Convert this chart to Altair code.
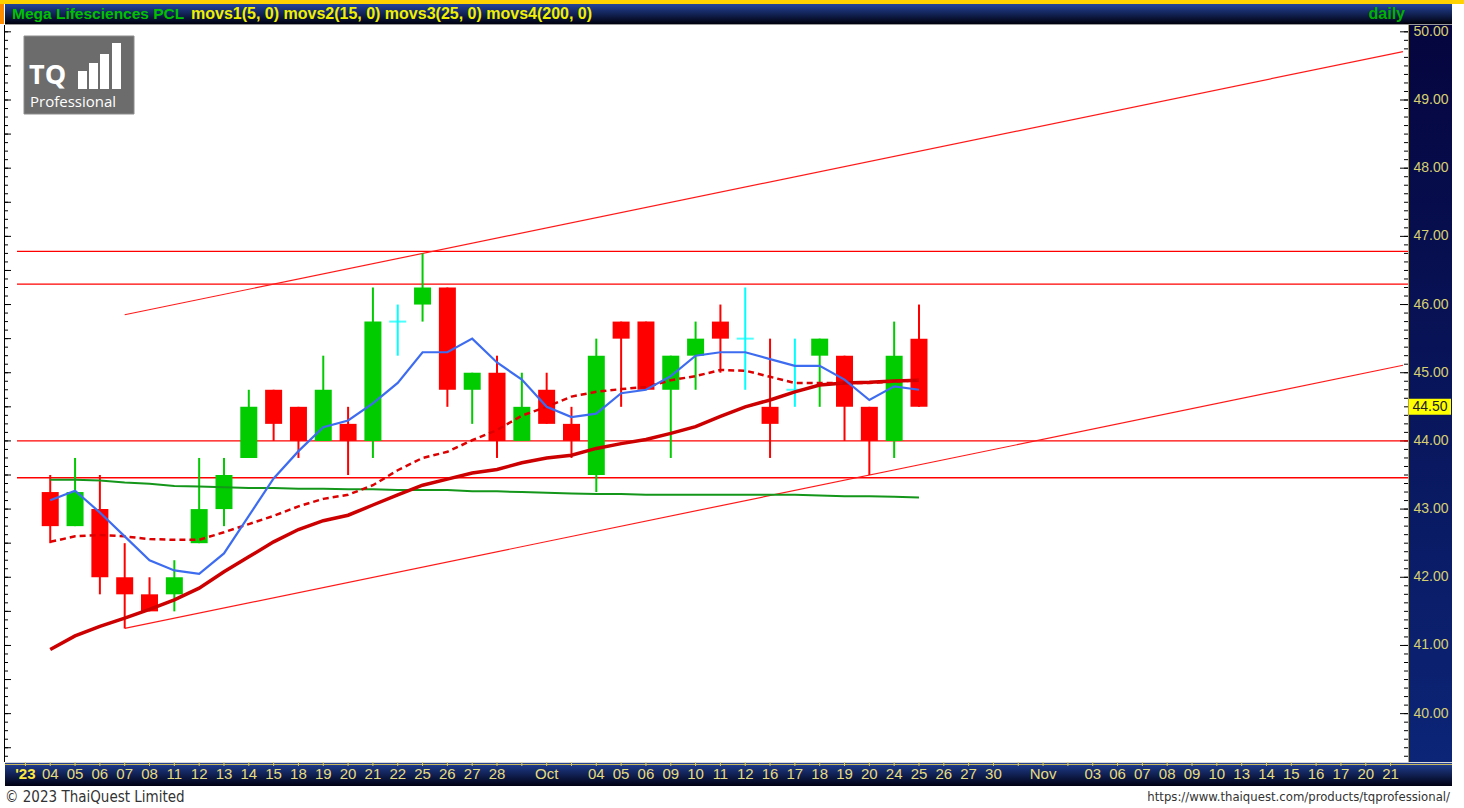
import altair as alt
import pandas as pd

# ---------------- data ----------------
x_labels = ["'23", "04", "05", "06", "07", "08", "11", "12", "13", "14", "15", "18", "19", "20",
            "21", "22", "25", "26", "27", "28", "", "Oct", "", "04", "05", "06", "09", "10", "11",
            "12", "16", "17", "18", "19", "20", "24", "25", "26", "27", "30", "", "Nov", "", "03",
            "06", "07", "08", "09", "10", "13", "14", "15", "16", "17", "20", "21"]

candle_slot = list(range(1, 37))
opens = [43.25, 42.75, 43.0, 42.0, 41.75, 41.75, 42.5, 43.0, 43.75, 44.75, 44.5, 44.0, 44.25, 44.0,
         45.75, 46.0, 46.25, 44.75, 45.0, 44.0, 44.75, 44.25, 43.5, 45.75, 45.75, 44.75, 45.25,
         45.75, 45.5, 44.5, 44.75, 45.25, 45.25, 44.5, 44.0, 45.5]
highs = [43.5, 43.75, 43.5, 42.5, 42.0, 42.25, 43.75, 43.75, 44.75, 44.75, 44.5, 45.25, 44.5, 46.25,
         46.0, 46.75, 46.25, 45.0, 45.25, 45.0, 45.0, 44.5, 45.5, 45.75, 45.75, 45.25, 45.75,
         46.0, 46.25, 45.5, 45.5, 45.5, 45.25, 44.5, 45.75, 46.0]
lows = [42.5, 42.75, 41.75, 41.25, 41.5, 41.5, 42.5, 42.75, 43.75, 44.0, 43.75, 44.0, 43.5, 43.75,
        45.25, 45.75, 44.5, 44.25, 43.75, 44.0, 44.25, 43.75, 43.25, 44.5, 44.75, 43.75, 44.75,
        45.0, 44.75, 43.75, 44.5, 44.5, 44.0, 43.5, 43.75, 44.5]
closes = [42.75, 43.25, 42.0, 41.75, 41.5, 42.0, 43.0, 43.5, 44.5, 44.25, 44.0, 44.75, 44.0, 45.75,
          45.75, 46.25, 44.75, 45.0, 44.0, 44.5, 44.25, 44.0, 45.25, 45.5, 44.75, 45.25, 45.5,
          45.5, 45.5, 44.25, 44.75, 45.5, 44.5, 44.0, 45.25, 44.5]

movs1 = [43.13, 43.27, 42.95, 42.6, 42.25, 42.1, 42.05, 42.35, 42.9, 43.45, 43.85, 44.2, 44.3, 44.55,
         44.85, 45.3, 45.3, 45.5, 45.15, 44.9, 44.5, 44.35, 44.4, 44.7, 44.75, 44.95, 45.25, 45.3,
         45.3, 45.2, 45.1, 45.1, 44.9, 44.6, 44.8, 44.75]
movs2 = [42.52, 42.6, 42.62, 42.6, 42.56, 42.55, 42.55, 42.66, 42.78, 42.9, 43.04, 43.15, 43.21,
         43.35, 43.57, 43.75, 43.84, 44.01, 44.16, 44.37, 44.5, 44.65, 44.72, 44.76, 44.79, 44.89,
         44.95, 45.04, 45.03, 44.94, 44.85, 44.85, 44.85, 44.85, 44.87, 44.89]
movs3 = [40.94, 41.14, 41.28, 41.4, 41.53, 41.67, 41.84, 42.08, 42.3, 42.52, 42.7, 42.83, 42.91,
         43.06, 43.21, 43.35, 43.44, 43.53, 43.58, 43.68, 43.75, 43.79, 43.89, 43.96, 44.02, 44.11,
         44.21, 44.36, 44.5, 44.6, 44.72, 44.82, 44.85, 44.86, 44.88, 44.89]
movs4 = [43.43, 43.43, 43.42, 43.39, 43.37, 43.34, 43.33, 43.32, 43.31, 43.31, 43.30, 43.30, 43.29,
         43.29, 43.28, 43.28, 43.28, 43.26, 43.26, 43.25, 43.24, 43.23, 43.22, 43.22, 43.21, 43.21,
         43.21, 43.21, 43.21, 43.21, 43.21, 43.20, 43.19, 43.19, 43.18, 43.17]

hline_levels = [46.78, 46.3, 44.0, 43.46]
trend_slots = [4, 55.5]
trend_lower = [41.25, 45.11]
trend_upper = [45.85, 49.71]

y_labels = [40, 41, 42, 43, 44, 45, 46, 47, 48, 49, 50]
y_major = [39.5 + 0.5 * i for i in range(22)]
y_minor = [39.375 + 0.125 * i for i in range(87)]

# ---------------- scales / helpers ----------------
XS = alt.Scale(domain=[-0.5, 55.5], nice=False, zero=False)
YS = alt.Scale(domain=[39.32, 50.1], nice=False, zero=False)
FONT = "Liberation Sans"


def X(f):
    return alt.X(f, type="quantitative", scale=XS, axis=None)


def Y(f):
    return alt.Y(f, type="quantitative", scale=YS, axis=None)


one = pd.DataFrame({"k": [0]})


def grad(c1, c2, vertical=True):
    return alt.Gradient(gradient="linear",
                        stops=[alt.GradientStop(color=c1, offset=0), alt.GradientStop(color=c2, offset=1)],
                        x1=0, y1=0, x2=0 if vertical else 1, y2=1 if vertical else 0)


def box(x1, x2, y1, y2, **mk):
    return alt.Chart(one).mark_rect(**mk).encode(
        x=alt.value(x1), x2=alt.value(x2), y=alt.value(y1), y2=alt.value(y2))


def label(txt, x, y, **mk):
    return alt.Chart(one).mark_text(text=txt, **mk).encode(x=alt.value(x), y=alt.value(y))


candles = pd.DataFrame({"slot": candle_slot, "open": opens, "high": highs, "low": lows, "close": closes})
candles["dir"] = ["up" if c > o else ("down" if c < o else "flat") for o, c in zip(opens, closes)]
DIR = alt.Scale(domain=["up", "down", "flat"], range=["#00CC00", "#FF0000", "#00FFFF"])

ma = pd.DataFrame({"slot": candle_slot, "m1": movs1, "m2": movs2, "m3": movs3, "m4": movs4})
trend = pd.DataFrame({"slot": trend_slots, "lo": trend_lower, "hi": trend_upper})
hl = pd.DataFrame({"p": hline_levels})
xl = pd.DataFrame({"slot": list(range(len(x_labels))), "t": x_labels})

layers = []

# ---------------- frame ----------------
layers.append(box(-8, 1456, -25, -21, color="#FFD200"))
layers.append(box(-3, 1444, -21, -1, color=grad("#24459A", "#00000E")))
layers.append(box(-8, -4, -21, -1, color="#FF8C00"))
layers.append(box(-3, 1444, -1, 0, color="#9A9A9A"))
layers.append(box(1400, 1444, 0, 737, color=grad("#05053E", "#0C2577")))
layers.append(box(1400, 1401, 0, 737, color="#B8A850"))
layers.append(box(-3, 1444, 737, 761, color=grad("#23449A", "#000012")))
layers.append(box(-3, 1444, 737, 738, color="#D8D8D8"))
layers.append(box(-3, 1444, 739, 740, color="#C8B860"))
layers.append(box(-4, -3, 0, 737, color="#000000"))

# logo
layers.append(box(16, 126, 11, 89, color="#6C6C6C", stroke="#8C8C8C", strokeWidth=1))
layers.append(label("TQ", 21, 51, font="Open Sans", fontSize=27, fontWeight="bold", color="white",
                    align="left", baseline="middle"))
for bx, by in [(70, 46), (81, 38), (92, 29), (104, 18)]:
    layers.append(box(bx, bx + 9, by, 64, color="white"))
layers.append(label("Professional", 22, 77, font="Open Sans", fontSize=15, color="white",
                    align="left", baseline="middle"))

# ---------------- axis ticks ----------------
layers.append(alt.Chart(pd.DataFrame({"p": y_minor})).mark_rule(color="#000000", strokeWidth=1).encode(
    y=Y("p"), x=alt.value(-3), x2=alt.value(0)))
layers.append(alt.Chart(pd.DataFrame({"p": y_major})).mark_rule(color="#000000", strokeWidth=1).encode(
    y=Y("p"), x=alt.value(-3), x2=alt.value(3)))
layers.append(alt.Chart(pd.DataFrame({"p": y_minor})).mark_rule(color="#000000", strokeWidth=1).encode(
    y=Y("p"), x=alt.value(1396), x2=alt.value(1400)))
layers.append(alt.Chart(pd.DataFrame({"p": y_labels})).mark_rule(color="#000000", strokeWidth=1).encode(
    y=Y("p"), x=alt.value(1392), x2=alt.value(1400)))
layers.append(alt.Chart(xl).mark_rule(color="#D8C860", strokeWidth=1).encode(
    x=X("slot"), y=alt.value(737), y2=alt.value(741)))

# ---------------- lines ----------------
layers.append(alt.Chart(hl).mark_rule(color="#FF0000", strokeWidth=1.4).encode(
    y=Y("p"), x=alt.value(9), x2=alt.value(1400)))
layers.append(alt.Chart(trend).mark_line(color="#FF1A1A", strokeWidth=1.2).encode(x=X("slot"), y=Y("lo")))
layers.append(alt.Chart(trend).mark_line(color="#FF1A1A", strokeWidth=1.2).encode(x=X("slot"), y=Y("hi")))

# ---------------- candles ----------------
layers.append(alt.Chart(candles).mark_rule(strokeWidth=2).encode(
    x=X("slot"), y=Y("low"), y2="high:Q", color=alt.Color("dir:N", scale=DIR, legend=None)))
layers.append(alt.Chart(candles).transform_filter("datum.dir != 'flat'").mark_bar(size=17).encode(
    x=X("slot"), y=Y("open"), y2="close:Q", color=alt.Color("dir:N", scale=DIR, legend=None)))
layers.append(alt.Chart(candles).transform_filter("datum.dir == 'flat'").mark_tick(
    orient="horizontal", size=17, thickness=2).encode(
    x=X("slot"), y=Y("close"), color=alt.Color("dir:N", scale=DIR, legend=None)))

# ---------------- moving averages ----------------
layers.append(alt.Chart(ma).mark_line(color="#13961A", strokeWidth=2).encode(x=X("slot"), y=Y("m4")))
layers.append(alt.Chart(ma).mark_line(color="#CC0000", strokeWidth=3.5).encode(x=X("slot"), y=Y("m3")))
layers.append(alt.Chart(ma).mark_line(color="#DD0000", strokeWidth=2.5, strokeDash=[6, 4]).encode(
    x=X("slot"), y=Y("m2")))
layers.append(alt.Chart(ma).mark_line(color="#3D6CF0", strokeWidth=2.2).encode(x=X("slot"), y=Y("m1")))

# ---------------- texts ----------------
layers.append(label("Mega Lifesciences PCL", 4, -11, font=FONT, fontSize=15.5, fontWeight="bold",
                    color="#00C000", align="left", baseline="middle"))
layers.append(label("movs1(5, 0) movs2(15, 0) movs3(25, 0) movs4(200, 0)", 183, -11, font=FONT,
                    fontSize=16, fontWeight="bold", color="#F0F000", align="left", baseline="middle"))
layers.append(label("daily", 1397, -11, font=FONT, fontSize=16, fontWeight="bold", color="#00B000",
                    align="right", baseline="middle"))

layers.append(alt.Chart(pd.DataFrame({"p": y_labels})).mark_text(
    font=FONT, fontSize=14, color="#D8D070", align="center", baseline="middle").encode(
    y=Y("p"), x=alt.value(1423), text=alt.Text("p:Q", format=".2f")))

last = pd.DataFrame({"p": [closes[-1]]})
layers.append(alt.Chart(last).mark_point(
    shape="M-1,-0.38H1V0.38H-1Z", size=1764, filled=True, color="#FFFF00", opacity=1).encode(
    y=Y("p"), x=alt.value(1422)))
layers.append(alt.Chart(last).mark_text(
    font=FONT, fontSize=14, color="#202020", align="center", baseline="middle").encode(
    y=Y("p"), x=alt.value(1422), text=alt.Text("p:Q", format=".2f")))

layers.append(alt.Chart(xl).transform_filter("datum.slot > 0").mark_text(
    font=FONT, fontSize=15, baseline="middle", align="center", color="#E6DC80").encode(
    x=X("slot"), y=alt.value(749), text="t:N"))
layers.append(alt.Chart(xl).transform_filter("datum.slot == 0").mark_text(
    font=FONT, fontSize=15, fontWeight="bold", baseline="middle", align="center", color="#FFE840").encode(
    x=X("slot"), y=alt.value(749), text="t:N"))

layers.append(label("\u00a9 2023 ThaiQuest Limited", -3, 772, font="DejaVu Sans Condensed", fontSize=15,
                    color="#333333", align="left", baseline="middle"))
layers.append(label("https://www.thaiquest.com/products/tqprofessional/", 1442, 772,
                    font="DejaVu Sans Condensed", fontSize=13, color="#333333", align="right",
                    baseline="middle"))

chart = alt.layer(*layers).properties(
    width=1400, height=735,
    padding={"left": 8, "top": 25, "right": 56, "bottom": 48},
    autosize="none", background="white",
).configure_view(stroke=None)

chart.save("out.html", embed_options={"renderer": "svg", "actions": False})
